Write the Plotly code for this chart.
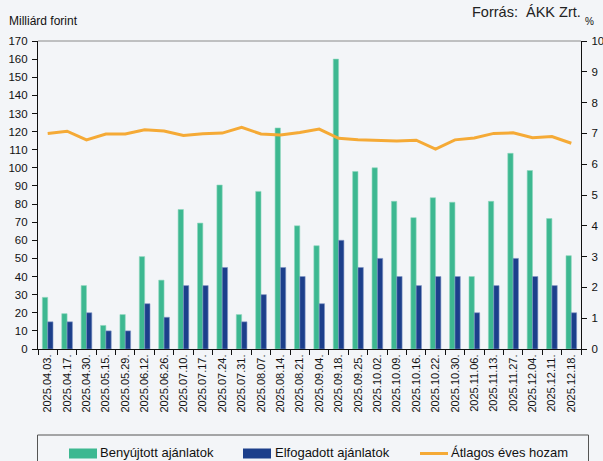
import plotly.graph_objects as go

dates = ["2025.04.03.", "2025.04.17.", "2025.04.30.", "2025.05.15.", "2025.05.29.",
         "2025.06.12.", "2025.06.26.", "2025.07.10.", "2025.07.17.", "2025.07.24.",
         "2025.07.31.", "2025.08.07.", "2025.08.14.", "2025.08.21.", "2025.09.04.",
         "2025.09.18.", "2025.09.25.", "2025.10.02.", "2025.10.09.", "2025.10.16.",
         "2025.10.22.", "2025.10.30.", "2025.11.06.", "2025.11.13.", "2025.11.27.",
         "2025.12.04.", "2025.12.11.", "2025.12.18."]
benyujtott = [28.5, 19.5, 35, 13, 19, 51, 38, 77, 69.5, 90.5,
              19, 87, 122, 68, 57, 160, 98, 100, 81.5, 72.5,
              83.5, 81, 40, 81.5, 108, 98.5, 72, 51.5]
elfogadott = [15, 15, 20, 10, 10, 25, 17.5, 35, 35, 45,
              15, 30, 45, 40, 25, 60, 45, 50, 40, 35,
              40, 40, 20, 35, 50, 40, 35, 20]
hozam = [7.00, 7.07, 6.79, 6.98, 6.98, 7.12, 7.08, 6.93, 6.99, 7.01,
         7.20, 6.98, 6.95, 7.03, 7.14, 6.84, 6.79, 6.78, 6.75, 6.78,
         6.49, 6.79, 6.85, 7.00, 7.02, 6.86, 6.90, 6.68]
left_ticks = list(range(0, 171, 10))
right_ticks = list(range(0, 11, 1))

GREEN = "#3db891"
BLUE = "#1c3f8b"
ORANGE = "#f5aa36"
BG = "#f3f5f8"
FONT = "Liberation Sans, Arial, sans-serif"

W, H = 603, 461
ML, MR, MT, MB = 38, 22, 41, 112
PW = W - ML - MR
PH = H - MT - MB


def px(x):
    return (x - ML) / PW


def py(y):
    return (H - MB - y) / PH


fig = go.Figure()
fig.add_trace(go.Bar(x=dates, y=benyujtott, name="Benyújtott ajánlatok",
                     marker=dict(color=GREEN, line=dict(width=0.6, color="#8fd6bd")),
                     yaxis="y"))
fig.add_trace(go.Bar(x=dates, y=elfogadott, name="Elfogadott ajánlatok",
                     marker=dict(color=BLUE, line=dict(width=0.6, color="#7f95c4")),
                     yaxis="y"))
fig.add_trace(go.Scatter(x=dates, y=hozam, name="Átlagos éves hozam", mode="lines",
                         line=dict(color=ORANGE, width=3), yaxis="y2"))

axis_font = dict(family=FONT, size=11.5, color="#111")

fig.update_layout(
    width=W, height=H,
    margin=dict(l=ML, r=MR, t=MT, b=MB, pad=0, autoexpand=False),
    paper_bgcolor=BG, plot_bgcolor=BG,
    showlegend=False,
    barmode="group", bargap=0.45, bargroupgap=0,
    font=dict(family=FONT, color="#111"),
    xaxis=dict(type="category", categoryorder="array", categoryarray=dates,
               tickson="boundaries", ticks="outside", ticklen=5, tickcolor="#111",
               tickangle=-90, tickfont=dict(family=FONT, size=11, color="#111"),
               showline=True, linecolor="#111", linewidth=1.2, showgrid=False,
               zeroline=False, automargin=False),
    xaxis2=dict(overlaying="x", range=[0, 28], tick0=0, dtick=1, ticks="inside",
                ticklen=4, tickcolor="#111", showticklabels=False, showgrid=False,
                zeroline=False, showline=False, anchor="y", side="bottom",
                automargin=False),
    yaxis=dict(range=[0, 170], tickvals=left_ticks, ticks="outside", ticklen=5,
               tickcolor="#111", tickfont=axis_font, showline=True, linecolor="#111",
               linewidth=1.2, showgrid=False, zeroline=False, ticklabelstandoff=2,
               automargin=False),
    yaxis2=dict(range=[0, 10], tickvals=right_ticks, overlaying="y", side="right",
                ticks="outside", ticklen=5, tickcolor="#111", tickfont=axis_font,
                showline=True, linecolor="#111", linewidth=1.2, showgrid=False,
                zeroline=False, ticklabelstandoff=2, automargin=False),
    yaxis3=dict(range=[0, 170], dtick=10, overlaying="y", side="left", anchor="x",
                ticks="inside", ticklen=5, tickcolor="#111", showticklabels=False,
                showgrid=False, zeroline=False, showline=False, automargin=False),
    yaxis4=dict(range=[0, 10], dtick=1, overlaying="y", side="right", anchor="x",
                ticks="inside", ticklen=5, tickcolor="#111", showticklabels=False,
                showgrid=False, zeroline=False, showline=False, automargin=False),
)

shapes = [
    dict(type="line", xref="paper", yref="paper", x0=0, x1=1, y0=1, y1=1,
         line=dict(color="#8a8a8a", width=1)),
    # legend box
    dict(type="rect", xref="paper", yref="paper", x0=px(37.5), x1=px(588.5),
         y0=py(435), y1=py(470), line=dict(color="#555", width=1), fillcolor=BG,
         layer="below"),
    dict(type="rect", xref="paper", yref="paper", x0=px(69), x1=px(97),
         y0=py(448.5), y1=py(458.5), line=dict(width=0), fillcolor=GREEN),
    dict(type="rect", xref="paper", yref="paper", x0=px(243), x1=px(271),
         y0=py(448.5), y1=py(458.5), line=dict(width=0), fillcolor=BLUE),
    dict(type="line", xref="paper", yref="paper", x0=px(420), x1=px(448),
         y0=py(453.5), y1=py(453.5), line=dict(color=ORANGE, width=3)),
]
fig.update_layout(shapes=shapes)

ann = [
    dict(text="Milliárd forint", x=px(7), y=py(21), xanchor="left", yanchor="middle",
         font=dict(family=FONT, size=12, color="#111")),
    dict(text="Forrás:  ÁKK Zrt.", x=px(583), y=py(12), xanchor="right", yanchor="middle",
         font=dict(family=FONT, size=14.5, color="#222")),
    dict(text="%", x=px(589), y=py(22), xanchor="center", yanchor="middle",
         font=dict(family=FONT, size=10, color="#111")),
    dict(text="Benyújtott ajánlatok", x=px(98), y=py(452.5), xanchor="left",
         yanchor="middle", font=dict(family=FONT, size=13, color="#111")),
    dict(text="Elfogadott ajánlatok", x=px(273), y=py(452.5), xanchor="left",
         yanchor="middle", font=dict(family=FONT, size=13, color="#111")),
    dict(text="Átlagos éves hozam", x=px(449), y=py(452.5), xanchor="left",
         yanchor="middle", font=dict(family=FONT, size=13, color="#111")),
]
for a in ann:
    a.update(xref="paper", yref="paper", showarrow=False)
fig.update_layout(annotations=ann)

fig.write_html("out.html", config={"displayModeBar": False},
               post_script="document.body.style.margin='0px';"
                           "document.body.style.background='" + BG + "';")
